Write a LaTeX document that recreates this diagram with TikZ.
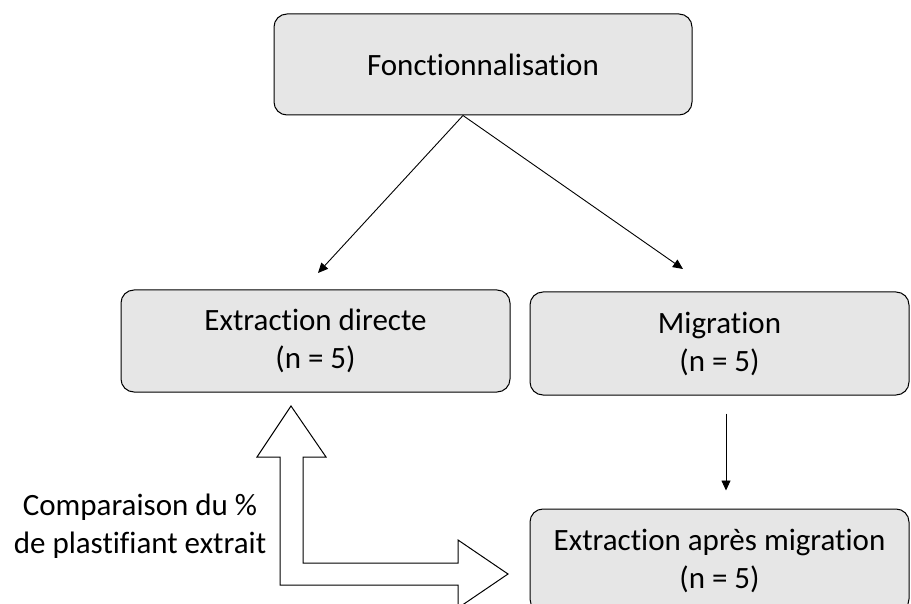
\documentclass[tikz,border=0pt]{standalone}
\usepackage{fontspec}
\setmainfont{Carlito}[Ligatures=NoCommon]
\usepackage{tikz}
\usetikzlibrary{positioning, arrows.meta}
\definecolor{boxgray}{RGB}{230,230,230}

\begin{document}
\begin{tikzpicture}[
  x=1pt, y=-1pt,
  box/.style={draw, rounded corners=13pt, line width=1pt, fill=boxgray,
              align=center, inner sep=0pt, font=\fontsize{31}{38}\selectfont},
  arrow/.style={-{Triangle[length=10pt, width=9pt]}, line width=0.9pt},
  bigarrow/.style={draw, fill=white, line width=1pt, line join=miter}
]
  \useasboundingbox (0,0) rectangle (911,604);
  \node[box, minimum width=418pt, minimum height=101pt] (fonc) at (483,64.5) {Fonctionnalisation};
  \node[box, minimum width=389pt, minimum height=102pt] (direct) at (315.5,341) {Extraction directe\\(n = 5)};
  \node[box, minimum width=379pt, minimum height=103pt] (migr) at (719.5,343.5) {Migration\\(n = 5)};
  \node[box, minimum width=379pt, minimum height=103pt] (apres) at (719.5,560.5) {Extraction après migration\\(n = 5)};
  \node[align=center, font=\fontsize{31}{38}\selectfont] (comp) at (140,526) {Comparaison du \%\\de plastifiant extrait};
  % free ends of the thin arrows
  \coordinate (dtip) at (318,273);
  \coordinate (mtip) at (683,269);
  \draw[arrow] ([xshift=-20pt]fonc.south) -- (dtip);
  \draw[arrow] ([xshift=-20pt]fonc.south) -- (mtip);
  \draw[arrow] ([xshift=6.5pt, yshift=-18pt]migr.south) -- ([xshift=6.5pt, yshift=18pt]apres.north);
  % double block arrow
  \draw[bigarrow] (291,406) -- (326,457) -- (303,457) -- (303,563) -- (458,563)
    -- (458,540) -- (508,574) -- (458,608) -- (458,585) -- (280,585)
    -- (280,457) -- (257,457) -- cycle;
\end{tikzpicture}
\end{document}
